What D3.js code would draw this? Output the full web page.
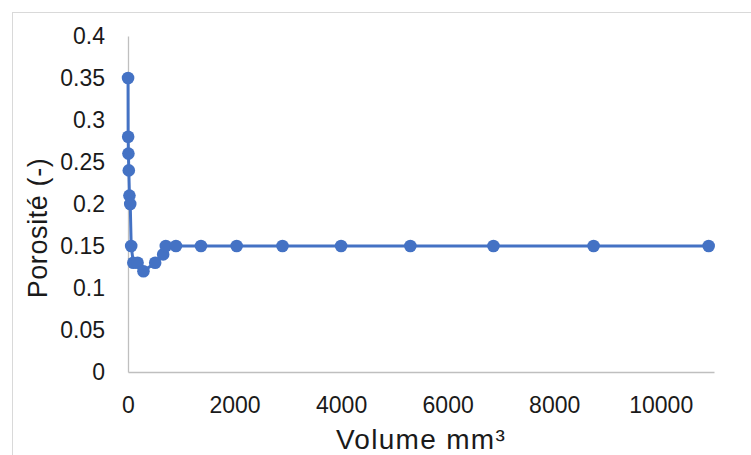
<!DOCTYPE html>
<html><head><meta charset="utf-8">
<script src="https://cdn.jsdelivr.net/npm/d3@7"></script>
<style>body{margin:0;background:#fff}svg{display:block}</style>
</head><body>
<svg id="c" width="751" height="455"></svg>
<script>
const volumes = [1, 3, 8, 15, 27, 42, 60, 100, 180, 290, 510, 660, 710, 900, 1370, 2040, 2900, 4000, 5300, 6860, 8740, 10900];
const porosity = [0.35, 0.28, 0.26, 0.24, 0.21, 0.20, 0.15, 0.13, 0.13, 0.12, 0.13, 0.14, 0.15, 0.15, 0.15, 0.15, 0.15, 0.15, 0.15, 0.15, 0.15, 0.15];
const xTicks = [0, 2000, 4000, 6000, 8000, 10000];
const yTicks = [0, 0.05, 0.1, 0.15, 0.2, 0.25, 0.3, 0.35, 0.4];
const xTitle = "Volume mm³";
const yTitle = "Porosité (-)";

const svg = d3.select("#c");
const font = "Liberation Sans, Arial, sans-serif";
const L = 128, R = 714, T = 36, B = 372;
const x = d3.scaleLinear().domain([0, 11000]).range([L, R]);
const y = d3.scaleLinear().domain([0, 0.4]).range([B, T]);

// chart border
svg.append("rect").attr("x", 12.5).attr("y", 12.5).attr("width", 760).attr("height", 470)
  .attr("fill", "none").attr("stroke", "#d9d9d9").attr("stroke-width", 1);

// axes
const yAxis = svg.append("g").attr("transform", `translate(${L},0)`)
  .call(d3.axisLeft(y).tickValues(yTicks).tickSize(0).tickPadding(23).tickFormat(d => String(+d.toFixed(2))));
const xAxis = svg.append("g").attr("transform", `translate(0,${B})`)
  .call(d3.axisBottom(x).tickValues(xTicks).tickSize(0).tickPadding(25).tickFormat(d => String(d)));
[yAxis, xAxis].forEach(g => {
  g.attr("font-size", 23).attr("font-family", font);
  g.select(".domain").attr("stroke", "#bfbfbf").attr("stroke-width", 1.3);
  g.selectAll("text").attr("font-family", font).style("font-size", "23px").attr("fill", "#1a1a1a");
});

// line + markers
const pts = volumes.map((v, i) => [v, porosity[i]]);
svg.append("path").datum(pts)
  .attr("d", d3.line().x(d => x(d[0])).y(d => y(d[1])))
  .attr("fill", "none").attr("stroke", "#4472C4").attr("stroke-width", 3);
svg.append("g").selectAll("circle").data(pts).join("circle")
  .attr("cx", d => x(d[0])).attr("cy", d => y(d[1])).attr("r", 6.3)
  .attr("fill", "#4472C4");

// titles
svg.append("text").attr("x", 421).attr("y", 449).attr("text-anchor", "middle")
  .attr("font-family", font).attr("font-size", 28).attr("letter-spacing", 1.3).attr("fill", "#1a1a1a").text(xTitle);
svg.append("text").attr("transform", "translate(47,228) rotate(-90)").attr("text-anchor", "middle")
  .attr("font-family", font).attr("font-size", 27).attr("letter-spacing", 0.6).attr("fill", "#1a1a1a").text(yTitle);
</script>
</body></html>
